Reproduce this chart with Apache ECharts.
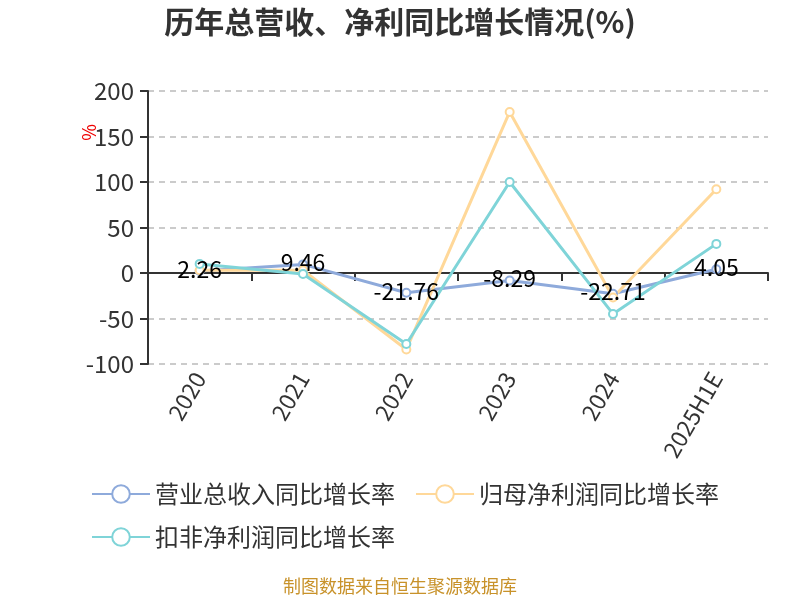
<!DOCTYPE html>
<html>
<head>
<meta charset="utf-8">
<script src="https://cdn.jsdelivr.net/npm/echarts@6/dist/echarts.min.js"></script>
<style>
    html, body { margin: 0; padding: 0; background: #fff; }
    #chart { width: 800px; height: 600px; }
</style>
</head>
<body>
<div id="chart"></div>
<script>
const categories = ['2020', '2021', '2022', '2023', '2024', '2025H1E'];
const revenueGrowth = [2.26, 9.46, -21.76, -8.29, -22.71, 4.05];
const netProfitGrowth = [3, 3, -84, 177, -27, 92];
const deductedProfitGrowth = [10, -1, -78, 100, -45, 32];
const yTicks = { min: -100, max: 200, interval: 50 };

const font = 'Noto Sans CJK SC';
const names = ['营业总收入同比增长率', '归母净利润同比增长率', '扣非净利润同比增长率'];

let chart = echarts.init(document.getElementById('chart'));

function lineSeries(name, data, color, withLabel) {
    return {
        name: name,
        type: 'line',
        data: data,
        symbol: 'emptyCircle',
        symbolSize: 8,
        lineStyle: { width: 3, color: color },
        itemStyle: { color: color },
        label: {
            show: withLabel,
            position: 'inside',
            offset: [0, -2],
            color: '#000',
            fontSize: 23,
            fontFamily: font,
        },
        z: 3,
    };
}

// both legend rows share the same look
function legendRow(top, items) {
    return {
        left: 86,
        top: top,
        itemWidth: 58,
        itemHeight: 22,
        itemGap: 20,
        textStyle: { fontSize: 24, color: '#333', fontFamily: font },
        data: items,
    };
}

let option = {
    animation: false,
    title: {
        text: '历年总营收、净利同比增长情况(%)',
        left: 'center',
        top: 2,
        textStyle: {
            fontSize: 30,
            fontWeight: 'bold',
            color: '#333',
            fontFamily: font,
        },
    },
    grid: {
        left: 148,
        right: 32,
        top: 91,
        bottom: 236,
    },
    // Add legend
    legend: [legendRow(477, names.slice(0, 2)), legendRow(520, names.slice(2))],
    xAxis: [
        {
            // axis line crossing at zero
            type: 'category',
            data: categories,
            axisLine: { onZero: true, lineStyle: { color: '#333', width: 2 } },
            axisTick: { show: true, length: 8, lineStyle: { color: '#333', width: 2 } },
            axisLabel: { show: false },
        },
        {
            // labels at the bottom
            type: 'category',
            data: categories,
            position: 'bottom',
            axisLine: { show: false },
            axisTick: { show: false },
            axisLabel: {
                rotate: 60,
                fontSize: 23,
                color: '#333',
                margin: 10,
                fontFamily: font,
            },
        },
    ],
    yAxis: {
        type: 'value',
        min: yTicks.min,
        max: yTicks.max,
        interval: yTicks.interval,
        axisLine: { show: true, lineStyle: { color: '#333', width: 2 } },
        axisTick: { show: true, length: 8, lineStyle: { color: '#333', width: 2 } },
        axisLabel: { fontSize: 24, color: '#333', margin: 14, fontFamily: font },
        splitLine: { lineStyle: { type: [6, 5], color: '#bbb', width: 1.5 } },
    },
    graphic: [
        {
            type: 'text',
            left: 80,
            top: 124,
            rotation: -Math.PI / 2,
            style: { text: '%', fill: '#e00', fontSize: 18, fontFamily: font },
        },
        {
            type: 'text',
            left: 'center',
            top: 577,
            style: {
                text: '制图数据来自恒生聚源数据库',
                fill: '#c8922a',
                fontSize: 18,
                fontFamily: font,
            },
        },
    ],
    series: [
        lineSeries(names[0], revenueGrowth, '#8eaadb', true),
        lineSeries(names[1], netProfitGrowth, '#ffd899', false),
        lineSeries(names[2], deductedProfitGrowth, '#7fd4d8', false),
    ],
};
chart.setOption(option);
</script>
</body>
</html>
